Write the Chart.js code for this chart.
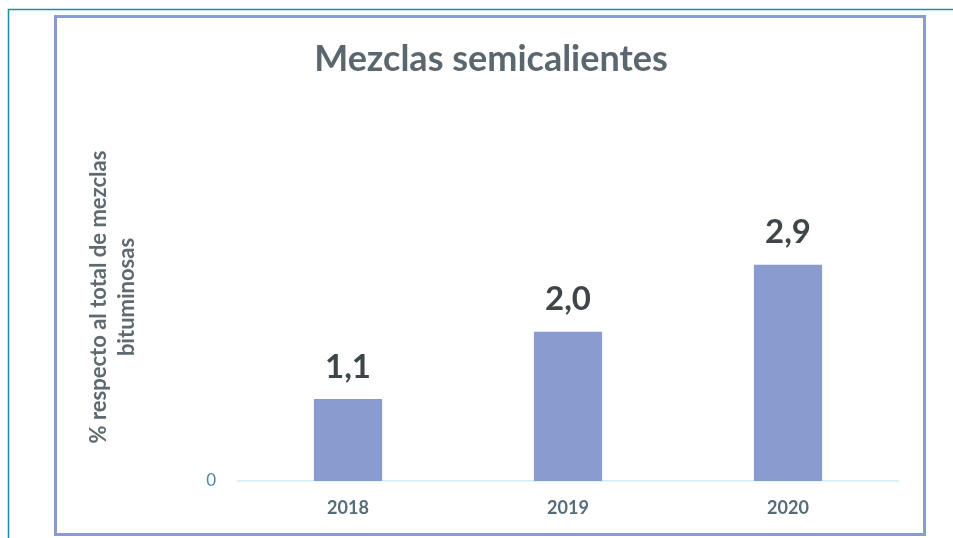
<!DOCTYPE html>
<html>
  <head>
    <title>Mezclas semicalientes</title>
    <script src="https://cdn.jsdelivr.net/npm/chart.js@4/dist/chart.umd.min.js"></script>
    <style>
      html, body { margin: 0; padding: 0; background: #fff; }
      #container { width: 953px; height: 538px; }
    </style>
  </head>
  <body>
    <div id="container">
      <canvas id="canvas" width="953" height="538"></canvas>
    </div>
    <script>
      // data
      const years = ['2018', '2019', '2020'];
      const shares = [1.1, 2.0, 2.9];
      const yTicks = [0];

      const chartTitle = 'Mezclas semicalientes';
      const yTitle = ['% respecto al total de mezclas', 'bituminosas'];

      // frames, titles and value labels
      const decor = {
        id: 'decor',
        beforeDraw(chart) {
          const c = chart.ctx;
          c.save();
          // outer thin frame
          c.strokeStyle = '#2389ad';
          c.lineWidth = 1.5;
          c.beginPath();
          c.moveTo(8.5, 538);
          c.lineTo(8.5, 9.5);
          c.lineTo(953, 9.5);
          c.stroke();
          // inner chart box
          c.strokeStyle = '#8c9ad4';
          c.lineWidth = 3;
          c.strokeRect(55.5, 16.5, 869, 518);
          c.restore();
        },
        afterDraw(chart) {
          const c = chart.ctx;
          c.save();
          c.textAlign = 'center';
          c.textBaseline = 'middle';
          c.fillStyle = '#5b676e';
          c.font = 'bold 36px Lato';
          c.fillText(chartTitle, 491, 59);

          c.translate(113, 297);
          c.rotate(-Math.PI / 2);
          c.font = 'bold 22px Lato';
          c.fillStyle = '#5e6a70';
          c.fillText(yTitle[0], 0, -14);
          c.fillText(yTitle[1], 0, 14);
          c.restore();

          c.save();
          c.textAlign = 'center';
          c.textBaseline = 'middle';
          c.font = 'bold 33px Lato';
          c.fillStyle = '#3e4649';
          chart.getDatasetMeta(0).data.forEach((bar, i) => {
            c.fillText(shares[i].toFixed(1).replace('.', ','), bar.x, bar.y - 32);
          });
          c.restore();
        }
      };

      window.onload = () => {
        const ctx = document.getElementById('canvas').getContext('2d');
        window.myBar = new Chart(ctx, {
          type: 'bar',
          data: {
            labels: years,
            datasets: [{
              label: 'Mezclas semicalientes',
              data: shares,
              backgroundColor: '#8a9bcf',
              categoryPercentage: 1,
              barPercentage: 0.31
            }]
          },
          options: {
            responsive: false,
            animation: false,
            layout: { padding: { left: 60, right: 55, top: 108, bottom: 12 } },
            plugins: {
              legend: { display: false },
              tooltip: { enabled: false }
            },
            scales: {
              x: {
                grid: { display: false },
                border: { color: '#d3ebf3', width: 1.5 },
                ticks: { color: '#566d78', font: { family: 'Lato', size: 18, weight: 'bold' }, padding: 8 },
                afterFit: (s) => { s.height = 45; }
              },
              y: {
                min: 0,
                max: 5,
                grid: { display: false, drawTicks: false },
                border: { display: false },
                afterBuildTicks: (s) => { s.ticks = yTicks.map(v => ({ value: v })); },
                ticks: { color: '#4b8aa6', font: { family: 'Lato', size: 17 }, padding: 22 },
                afterFit: (s) => { s.width = 178; }
              }
            }
          },
          plugins: [decor]
        });
      };
    </script>
  </body>
</html>
